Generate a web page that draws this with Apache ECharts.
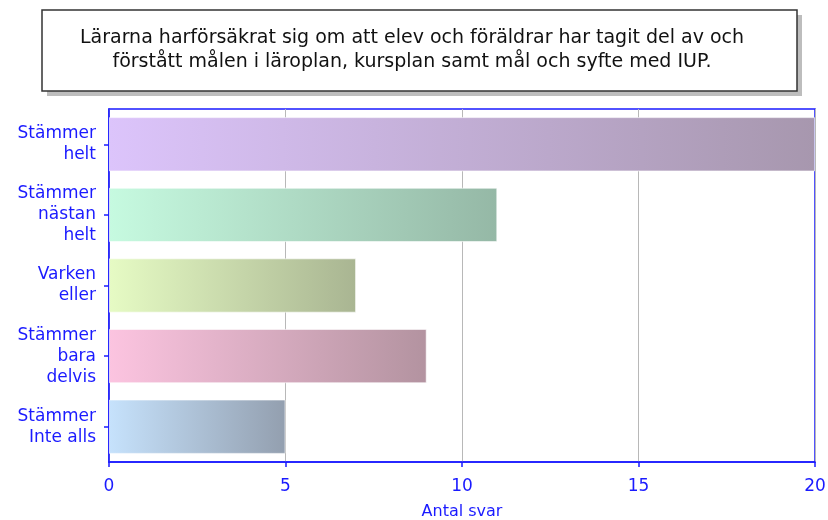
<!DOCTYPE html>
<html>
<head>
<meta charset="utf-8">
<script src="https://cdn.jsdelivr.net/npm/echarts@6/dist/echarts.min.js"></script>
<style>
  html, body { margin: 0; padding: 0; background: #fff; }
  #chart { width: 828px; height: 520px; }
</style>
</head>
<body>
<div id="chart"></div>
<script>
const categories = ['Stämmer\nhelt', 'Stämmer\nnästan\nhelt', 'Varken\neller', 'Stämmer\nbara\ndelvis', 'Stämmer\nInte alls'];
const values = [20, 11, 7, 9, 5];
const startColors = ['#dcc4fb', '#c6fae0', '#e6fbc4', '#fcc4e0', '#c6e2fc'];
const endColors = ['#a797ae', '#95b8a6', '#a9b592', '#b393a0', '#939faf'];
const xTicks = [0, 5, 10, 15, 20];

const titleText = 'Lärarna harförsäkrat sig om att elev och föräldrar har tagit del av och\nförstått målen i läroplan, kursplan samt mål och syfte med IUP.';
const blue = '#1a1aff';

const chart = echarts.init(document.getElementById('chart'));

chart.setOption({
    backgroundColor: '#fff',
    animation: false,
    grid: {
        left: 109, right: 13, top: 109, bottom: 58,
        outerBoundsMode: 'none',
        containLabel: false,
        show: true,
        borderColor: blue,
        borderWidth: 1.5
    },
    graphic: [
        {
            type: 'rect',
            shape: { x: 47, y: 15, width: 755, height: 81 },
            style: { fill: '#bdbdbd' },
            z: 10
        },
        {
            type: 'rect',
            shape: { x: 42, y: 10, width: 755, height: 81 },
            style: { fill: '#fff', stroke: '#333', lineWidth: 1.5 },
            z: 11
        },
        {
            type: 'text',
            x: 412, y: 50,
            z: 12,
            style: {
                text: titleText,
                fill: '#111',
                font: '19px "DejaVu Sans"',
                align: 'center',
                verticalAlign: 'middle',
                lineHeight: 24
            }
        }
    ],
    xAxis: {
        type: 'value',
        min: 0, max: 20, interval: 5,
        name: 'Antal svar',
        nameLocation: 'middle',
        nameGap: 42,
        nameTextStyle: { color: blue, fontSize: 16, fontFamily: 'DejaVu Sans' },
        axisLine: { show: true, lineStyle: { color: blue, width: 1.5 } },
        axisTick: { show: true, length: 5, lineStyle: { color: blue, width: 1.5 } },
        axisLabel: {
            color: blue, fontSize: 17, fontFamily: 'DejaVu Sans', margin: 16,
            formatter: v => xTicks.includes(v) ? String(v) : ''
        },
        splitLine: { show: true, lineStyle: { color: '#b8b8b8', width: 1 } }
    },
    yAxis: {
        type: 'category',
        data: categories,
        inverse: true,
        axisLine: { show: true, lineStyle: { color: blue, width: 1.5 } },
        axisTick: { show: true, alignWithLabel: true, length: 5, lineStyle: { color: blue, width: 1.5 } },
        axisLabel: {
            color: blue, fontSize: 17, fontFamily: 'DejaVu Sans',
            lineHeight: 21, align: 'right', margin: 13
        },
        splitLine: { show: false }
    },
    series: [{
        type: 'bar',
        barCategoryGap: '23%',
        data: values.map((v, i) => ({
            value: v,
            itemStyle: {
                color: new echarts.graphic.LinearGradient(0, 0, 1, 0, [
                    { offset: 0, color: startColors[i] },
                    { offset: 1, color: endColors[i] }
                ]),
                borderColor: 'rgba(255,255,255,0.6)',
                borderWidth: 1
            }
        }))
    }]
});
</script>
</body>
</html>
